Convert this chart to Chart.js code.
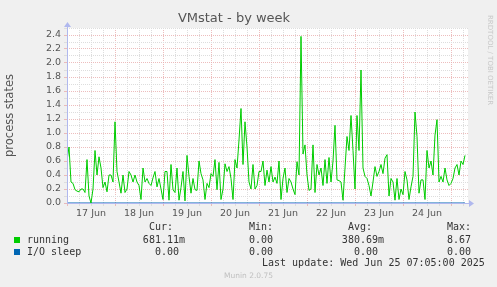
<!DOCTYPE html>
<html>
<head>
<meta charset="utf-8">
<script src="https://cdn.jsdelivr.net/npm/chart.js@4.4.1/dist/chart.umd.min.js"></script>
<style>
  body { margin: 0; background: #f0f0f0; }
  #wrap { position: relative; width: 497px; height: 287px; background: #f0f0f0; overflow: hidden; }
  #wrap canvas { position: absolute; left: 0; top: 0; }
  .t { position: absolute; white-space: pre; font: 10px "DejaVu Sans Mono", monospace; color: #333; line-height: 12px; }
  .sq { position: absolute; width: 6px; height: 6px; }
  #rrd { position: absolute; left: 486px; top: 15px; writing-mode: vertical-rl; font: 7px "DejaVu Sans", sans-serif; color: #c8c8c8; white-space: pre; }
  #munin { position: absolute; left: 0; width: 497px; top: 271px; text-align: center; font: 7.5px "DejaVu Sans", sans-serif; color: #c0c0c0; }
</style>
</head>
<body>
<div id="wrap">
  <canvas id="chart" width="497" height="287"></canvas>
</div>
<script>
// hourly samples, starting 17 Jun 00:00
const running = [
  0.6, 0.8, 0.3, 0.28, 0.19, 0.17, 0.16, 0.2, 0.2, 0.15,
  0.62, 0.1, 0.0, 0.2, 0.75, 0.4, 0.66, 0.5, 0.22, 0.3,
  0.16, 0.4, 0.4, 0.3, 1.16, 0.45, 0.3, 0.14, 0.4, 0.15,
  0.2, 0.45, 0.4, 0.3, 0.4, 0.3, 0.25, 0.05, 0.5, 0.3,
  0.35, 0.28, 0.25, 0.36, 0.45, 0.23, 0.35, 0.2, 0.05, 0.45,
  0.45, 0.04, 0.55, 0.19, 0.15, 0.5, 0.04, 0.22, 0.45, 0.03,
  0.68, 0.38, 0.14, 0.35, 0.19, 0.18, 0.6, 0.42, 0.33, 0.05,
  0.28, 0.22, 0.42, 0.38, 0.62, 0.19, 0.58, 0.05, 0.2, 0.56,
  0.45, 0.52, 0.35, 0.05, 0.62, 0.5, 0.9, 1.35, 0.55, 1.16,
  0.8, 0.3, 0.2, 0.55, 0.2, 0.25, 0.45, 0.45, 0.6, 0.25,
  0.47, 0.3, 0.52, 0.3, 0.37, 0.28, 0.6, 0.05, 0.35, 0.5,
  0.15, 0.35, 0.3, 0.2, 0.12, 0.59, 0.4, 2.38, 0.7, 0.83,
  0.4, 0.18, 0.2, 0.83, 0.15, 0.55, 0.4, 0.5, 0.25, 0.62,
  0.28, 0.65, 0.3, 0.6, 1.11, 0.33, 0.32, 0.3, 0.04, 0.5,
  0.95, 0.75, 1.25, 0.75, 0.2, 1.25, 0.75, 1.9, 0.5, 0.38,
  0.35, 0.25, 0.1, 0.3, 0.52, 0.38, 0.45, 0.55, 0.42, 0.64,
  0.69, 0.1, 0.35, 0.3, 0.04, 0.35, 0.05, 0.2, 0.12, 0.45,
  0.33, 0.05, 0.23, 0.38, 1.3, 0.95, 0.14, 0.33, 0.33, 0.05,
  0.75, 0.5, 0.6, 0.4, 0.97, 1.19, 0.3, 0.38, 0.3, 0.5,
  0.33, 0.25, 0.28, 0.35, 0.5, 0.55, 0.4, 0.6, 0.55, 0.68
];
const ioSleep = new Array(running.length).fill(0);

const dayLabels = ['17 Jun', '18 Jun', '19 Jun', '20 Jun', '21 Jun', '22 Jun', '23 Jun', '24 Jun'];

const legendHead = ['Cur:', 'Min:', 'Avg:', 'Max:'];
const legendRows = [
  { name: 'running', color: '#00cc00', vals: ['681.11m', '0.00', '380.69m', '8.67'] },
  { name: 'I/O sleep', color: '#0066b3', vals: ['0.00', '0.00', '0.00', '0.00'] }
];
const lastUpdate = 'Last update: Wed Jun 25 07:05:00 2025';

const MAJOR = 'rgba(232,172,172,0.8)';
const MINOR = '#dddddd';
const AXIS = '#b0b8ee';

const plotBg = {
  id: 'plotBg',
  beforeDraw(chart) {
    const { ctx, chartArea: a } = chart;
    ctx.save();
    ctx.fillStyle = '#ffffff';
    ctx.fillRect(a.left, a.top, a.right - a.left, a.bottom - a.top);
    ctx.restore();
  },
  afterDatasetsDraw(chart) {
    const { ctx, chartArea: a } = chart;
    ctx.save();
    ctx.strokeStyle = AXIS;
    ctx.fillStyle = AXIS;
    ctx.lineWidth = 1;
    ctx.beginPath();
    ctx.moveTo(a.left, a.bottom + 0.5);
    ctx.lineTo(a.right + 2, a.bottom + 0.5);
    ctx.moveTo(a.left + 0.5, a.bottom);
    ctx.lineTo(a.left + 0.5, a.top - 2);
    ctx.stroke();
    ctx.beginPath();
    ctx.moveTo(a.right + 1, a.bottom - 3);
    ctx.lineTo(a.right + 6, a.bottom + 0.5);
    ctx.lineTo(a.right + 1, a.bottom + 4);
    ctx.fill();
    ctx.beginPath();
    ctx.moveTo(a.left - 3, a.top - 1);
    ctx.lineTo(a.left + 0.5, a.top - 6);
    ctx.lineTo(a.left + 4, a.top - 1);
    ctx.fill();
    ctx.restore();
  }
};

new Chart(document.getElementById('chart'), {
  type: 'line',
  data: {
    datasets: [
      {
        label: 'I/O sleep',
        data: ioSleep.map((v, i) => ({ x: i, y: v })),
        borderColor: '#0066b3',
        borderWidth: 1,
        pointRadius: 0,
        order: 2
      },
      {
        label: 'running',
        data: running.map((v, i) => ({ x: i, y: v })),
        borderColor: '#00cc00',
        borderWidth: 1,
        pointRadius: 0,
        tension: 0,
        order: 1
      }
    ]
  },
  options: {
    responsive: false,
    animation: false,
    devicePixelRatio: 1,
    layout: { padding: { top: 0, left: 0, right: 29, bottom: 64 } },
    plugins: {
      legend: { display: false },
      tooltip: { enabled: false },
      title: {
        display: true,
        text: 'VMstat - by week',
        color: '#555',
        font: { family: 'DejaVu Sans', size: 13, weight: 'normal', lineHeight: 1.2 },
        padding: { top: 11, bottom: 1.4 }
      }
    },
    scales: {
      x: {
        type: 'linear',
        min: 0,
        max: 200.5,
        afterFit(scale) { scale.height = 20; },
        border: { display: false, dash: [1, 1] },
        grid: {
          color: ctx => (ctx.tick && ctx.tick.value % 24 === 0 ? MAJOR : MINOR),
          tickLength: 3,
          lineWidth: 1
        },
        ticks: {
          stepSize: 6,
          includeBounds: false,
          autoSkip: false,
          maxRotation: 0,
          padding: 2,
          color: '#555',
          font: { family: 'DejaVu Sans', size: 9.5 },
          callback: v => (v % 24 === 12 ? dayLabels[(v - 12) / 24] : '')
        }
      },
      y: {
        min: 0,
        max: 2.5,
        afterFit(scale) { scale.width = 67; },
        border: { display: false, dash: [1, 1] },
        grid: {
          color: ctx => (ctx.tick && Math.round(ctx.tick.value * 10) % 2 === 0 ? MAJOR : MINOR),
          tickLength: 3,
          lineWidth: 1
        },
        title: {
          display: true,
          text: 'process states',
          color: '#555',
          font: { family: 'DejaVu Sans', size: 11.5, lineHeight: 1.2 },
          padding: { top: 3, bottom: 0 }
        },
        ticks: {
          stepSize: 0.1,
          autoSkip: false,
          padding: 3,
          color: '#555',
          font: { family: 'DejaVu Sans', size: 9.5 },
          callback: v => (Math.round(v * 10) % 2 === 0 ? v.toFixed(1) : '')
        }
      }
    }
  },
  plugins: [plotBg]
});

// munin-style legend table
const wrap = document.getElementById('wrap');
function addText(txt, left, top, cls) {
  const d = document.createElement('div');
  d.className = cls || 't';
  d.textContent = txt;
  d.style.left = left + 'px';
  d.style.top = top + 'px';
  wrap.appendChild(d);
  return d;
}
const headX = [149, 249, 348, 447];
legendHead.forEach((h, i) => addText(h, headX[i], 221));
const rowY = [234, 246];
const valRight = [185, 279, 384, 477];
legendRows.forEach((r, j) => {
  const sq = document.createElement('div');
  sq.className = 'sq';
  sq.style.background = r.color;
  sq.style.left = '14px';
  sq.style.top = (rowY[j] + 3) + 'px';
  wrap.appendChild(sq);
  addText(r.name, 27, rowY[j]);
  r.vals.forEach((v, i) => {
    const pad = /[0-9]$/.test(v) ? v + ' ' : v;
    const d = addText(pad, 0, rowY[j]);
    d.style.left = (valRight[i] - pad.length * 6.02) + 'px';
  });
});
addText(lastUpdate, 262, 257);

const rrd = document.createElement('div');
rrd.id = 'rrd';
rrd.textContent = 'RRDTOOL / TOBI OETIKER';
wrap.appendChild(rrd);
const mun = document.createElement('div');
mun.id = 'munin';
mun.textContent = 'Munin 2.0.75';
wrap.appendChild(mun);
</script>
</body>
</html>
